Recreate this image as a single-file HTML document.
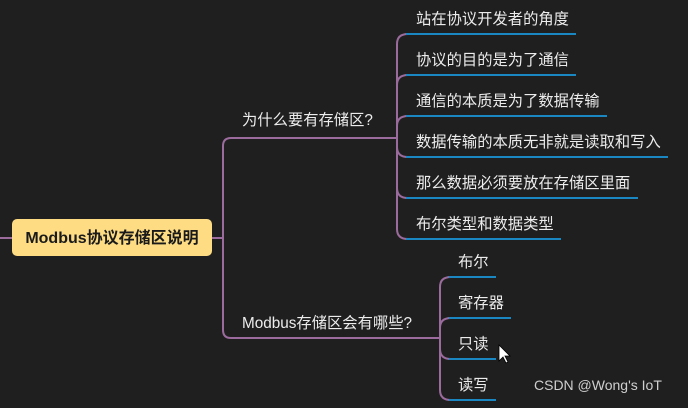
<!DOCTYPE html>
<html><head><meta charset="utf-8"><style>
html,body{margin:0;padding:0;background:#1f1f1f;}
svg{display:block;}
text{font-family:"Liberation Sans","Noto Sans CJK SC",sans-serif;fill:#ececec;font-size:15.3px;}
</style></head><body>
<svg width="688" height="408" viewBox="0 0 688 408" xmlns="http://www.w3.org/2000/svg">
<rect width="688" height="408" fill="#1f1f1f"/>
<g fill="none" stroke="#9a6b9c" stroke-width="2">
<line x1="0" y1="238" x2="12" y2="238"/>
<line x1="212" y1="238" x2="223" y2="238"/>
<path d="M398 138 H231 Q223 138 223 146 V330 Q223 338 231 338 H440"/>
<path d="M408 34 Q397 34 397 44 V229 Q397 239 408 239"/>
<path d="M408 75 Q397 75 397 85"/>
<path d="M408 116 Q397 116 397 126"/>
<path d="M408 157 Q397 157 397 147"/>
<path d="M408 198 Q397 198 397 188"/>
<path d="M451 277 Q440 277 440 287 V390 Q440 400 451 400"/>
<path d="M451 318 Q440 318 440 328"/>
<path d="M451 359 Q440 359 440 349"/>
</g>
<g stroke="#1a86c2" stroke-width="2">
<line x1="406" y1="34" x2="576" y2="34"/>
<line x1="406" y1="75" x2="576" y2="75"/>
<line x1="406" y1="116" x2="607" y2="116"/>
<line x1="406" y1="157" x2="668" y2="157"/>
<line x1="406" y1="198" x2="638" y2="198"/>
<line x1="406" y1="239" x2="561" y2="239"/>
<line x1="449" y1="277" x2="496" y2="277"/>
<line x1="449" y1="318" x2="511" y2="318"/>
<line x1="449" y1="359" x2="496" y2="359"/>
<line x1="449" y1="400" x2="496" y2="400"/>
</g>
<rect x="12" y="219" width="200" height="37" rx="5" fill="#fddc83"/>
<text x="112" y="243" text-anchor="middle" style="fill:#1a1a1a;font-weight:bold;font-size:16px">Modbus协议存储区说明</text>
<text x="242" y="125">为什么要有存储区?</text>
<text x="242" y="328">Modbus存储区会有哪些?</text>
<text x="416" y="24">站在协议开发者的角度</text>
<text x="416" y="65">协议的目的是为了通信</text>
<text x="416" y="106">通信的本质是为了数据传输</text>
<text x="416" y="147">数据传输的本质无非就是读取和写入</text>
<text x="416" y="188">那么数据必须要放在存储区里面</text>
<text x="416" y="229">布尔类型和数据类型</text>
<text x="458" y="267">布尔</text>
<text x="458" y="308">寄存器</text>
<text x="458" y="349">只读</text>
<text x="458" y="390">读写</text>
<path d="M499 345 L499 361 L503 357 L506 363 L508 362 L505 356 L510 356 Z" fill="#fff" stroke="#000" stroke-width="0.8"/>
<text x="534" y="390" style="fill:#cfcfcf;font-size:14px">CSDN @Wong's IoT</text>
</svg>
</body></html>
